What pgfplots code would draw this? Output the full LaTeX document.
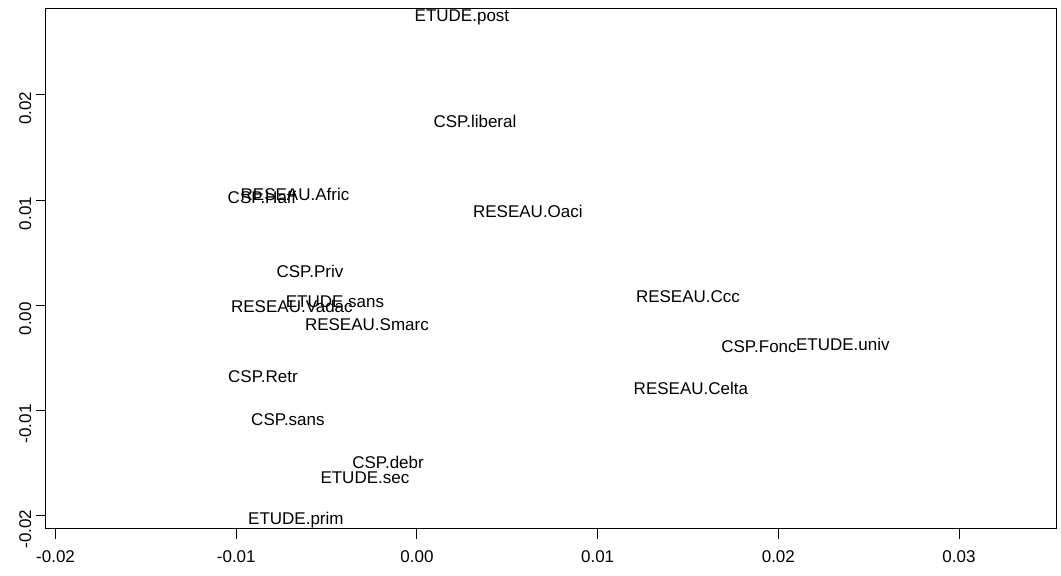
\documentclass[border=0pt]{standalone}
\usepackage{fontspec}
\setmainfont{Liberation Sans}
\usepackage{pgfplots}
\usepackage{pgfplotstable}
\pgfplotsset{compat=1.18}
\pgfplotstableread{
x y label
0.00249 0.0274 ETUDE.post
0.00321 0.01752 CSP.liberal
-0.00675 0.01058 RESEAU.Afric
-0.00858 0.01029 CSP.Haff
0.00614 0.00896 RESEAU.Oaci
-0.00592 0.00326 CSP.Priv
-0.00454 0.00031 ETUDE.sans
-0.00692 -0.00007 RESEAU.Vadac
-0.00277 -0.00187 RESEAU.Smarc
0.01500 0.00079 RESEAU.Ccc
0.01893 -0.00396 CSP.Fonc
0.02357 -0.00368 ETUDE.univ
-0.00852 -0.00682 CSP.Retr
0.01516 -0.00786 RESEAU.Celta
-0.00714 -0.01082 CSP.sans
-0.00160 -0.01490 CSP.debr
-0.00288 -0.01642 ETUDE.sec
-0.00670 -0.02040 ETUDE.prim
}\pts
\begin{document}
\begin{tikzpicture}
\begin{axis}[
  scale only axis,
  width=758.25pt, height=390pt,
  xmin=-0.02053, xmax=0.03542,
  ymin=-0.02126, ymax=0.02817,
  axis line style={line width=0.75pt},
  tick style={black, line width=0.75pt},
  tick align=outside,
  major tick length=7.5pt,
  xtick={-0.02,-0.01,0,0.01,0.02,0.03},
  xticklabels={-0.02,-0.01,0.00,0.01,0.02,0.03},
  ytick={-0.02,-0.01,0,0.01,0.02},
  yticklabels={-0.02,-0.01,0.00,0.01,0.02},
  scaled ticks=false,
  xtick pos=bottom, ytick pos=left,
  tick label style={font=\fontsize{12.75}{15}\selectfont},
  xticklabel style={anchor=north, yshift=-5pt},
  yticklabel style={rotate=90, anchor=south, xshift=-10pt},
  clip=false,
]
\addplot[draw=none, mark=none, nodes near coords, point meta=explicit symbolic,
  nodes near coords style={anchor=center, inner sep=0pt, font=\fontsize{12.75}{15}\selectfont}]
  table[x=x, y=y, meta=label]{\pts};
\path (axis description cs:-0.0455,-0.0904) (axis description cs:1.0040,1.0173);
\end{axis}
\end{tikzpicture}
\end{document}
